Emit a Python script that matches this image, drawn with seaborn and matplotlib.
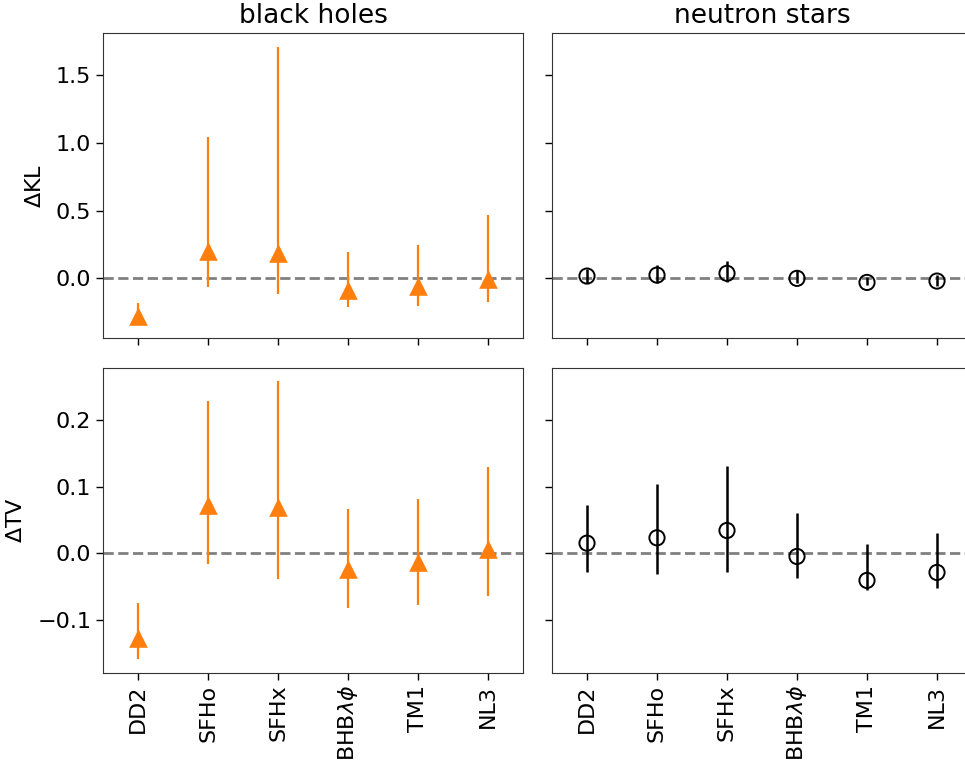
import numpy as np
import pandas as pd
import matplotlib
matplotlib.use("Agg")
import matplotlib.pyplot as plt
import seaborn as sns

categories = ["DD2", "SFHo", "SFHx", r"BHB$\lambda\phi$", "TM1", "NL3"]

# Delta KL
bh_kl = [-0.28, 0.20, 0.185, -0.086, -0.057, -0.008]
bh_kl_lo = [-0.32, -0.062, -0.116, -0.21, -0.205, -0.173]
bh_kl_hi = [-0.18, 1.04, 1.706, 0.197, 0.246, 0.467]
ns_kl = [0.017, 0.024, 0.037, 0.0, -0.03, -0.02]
ns_kl_lo = [-0.032, -0.032, -0.025, -0.037, -0.05, -0.06]
ns_kl_hi = [0.066, 0.098, 0.13, 0.061, 0.007, 0.024]

# Delta TV
bh_tv = [-0.128, 0.073, 0.070, -0.024, -0.013, 0.006]
bh_tv_lo = [-0.159, -0.016, -0.039, -0.083, -0.078, -0.064]
bh_tv_hi = [-0.075, 0.229, 0.258, 0.066, 0.081, 0.129]
ns_tv = [0.015, 0.023, 0.034, -0.005, -0.041, -0.029]
ns_tv_lo = [-0.028, -0.031, -0.029, -0.038, -0.056, -0.052]
ns_tv_hi = [0.073, 0.104, 0.131, 0.061, 0.014, 0.030]

sns.set_style("ticks")
plt.rcParams["font.family"] = ["DejaVu Sans"]
plt.rcParams["font.size"] = 16
plt.rcParams["text.color"] = "black"
plt.rcParams["axes.labelcolor"] = "black"
plt.rcParams["xtick.color"] = "black"
plt.rcParams["ytick.color"] = "black"

W, H = 965, 764
fig = plt.figure(figsize=(W / 100, H / 100), dpi=100)

def box(x0, y0, x1, y1):
    return [x0 / W, 1 - y1 / H, (x1 - x0) / W, (y1 - y0) / H]

ax_tl = fig.add_axes(box(103, 33, 523, 338))
ax_tr = fig.add_axes(box(552, 33, 972, 338))
ax_bl = fig.add_axes(box(103, 368, 523, 673))
ax_br = fig.add_axes(box(552, 368, 972, 673))

x = np.arange(len(categories))

def draw(ax, y, lo, hi, kind):
    y = np.asarray(y); lo = np.asarray(lo); hi = np.asarray(hi)
    yerr = np.vstack([y - lo, hi - y])
    ax.axhline(0, color="gray", ls="--", lw=2.0, zorder=1)
    df = pd.DataFrame({"x": x, "y": y})
    if kind == "bh":
        ax.errorbar(x, y, yerr=yerr, fmt="none", ecolor="#ff7f0e", elinewidth=1.6, zorder=2)
        sns.scatterplot(data=df, x="x", y="y", ax=ax, marker="^", s=180,
                        color="#ff7f0e", edgecolor="#ff7f0e", linewidth=0, zorder=3)
    else:
        ax.errorbar(x, y, yerr=yerr, fmt="none", ecolor="black", elinewidth=1.8, zorder=2)
        sns.scatterplot(data=df, x="x", y="y", ax=ax, marker="o", s=120,
                        facecolor="none", edgecolor="black", linewidth=1.4, zorder=3)
    ax.set_xlim(-0.5, 5.5)
    ax.set_xticks(x)
    ax.set_xlabel("")
    ax.set_ylabel("")
    ax.tick_params(labelsize=16, length=5, width=1, colors="black")
    for s in ax.spines.values():
        s.set_color("#333333")

draw(ax_tl, bh_kl, bh_kl_lo, bh_kl_hi, "bh")
draw(ax_tr, ns_kl, ns_kl_lo, ns_kl_hi, "ns")
draw(ax_bl, bh_tv, bh_tv_lo, bh_tv_hi, "bh")
draw(ax_br, ns_tv, ns_tv_lo, ns_tv_hi, "ns")

for ax in (ax_tl, ax_tr):
    ax.set_ylim(-0.44, 1.81)
    ax.set_yticks([0.0, 0.5, 1.0, 1.5])
    ax.set_xticklabels([])
for ax in (ax_bl, ax_br):
    ax.set_ylim(-0.18, 0.278)
    ax.set_yticks([-0.1, 0.0, 0.1, 0.2])
    ax.set_xticklabels(categories, rotation=90)
for ax in (ax_tr, ax_br):
    ax.set_yticklabels([])

ax_tl.set_yticklabels(["0.0", "0.5", "1.0", "1.5"])
ax_bl.set_yticklabels(["\u22120.1", "0.0", "0.1", "0.2"])

ax_tl.set_ylabel(r"$\Delta$KL", fontsize=16, labelpad=8)
ax_bl.set_ylabel(r"$\Delta$TV", fontsize=16, labelpad=8)
ax_tl.set_title("black holes", fontsize=19, pad=7)
ax_tr.set_title("neutron stars", fontsize=19, pad=7)

fig.savefig("out.png", dpi=100)
